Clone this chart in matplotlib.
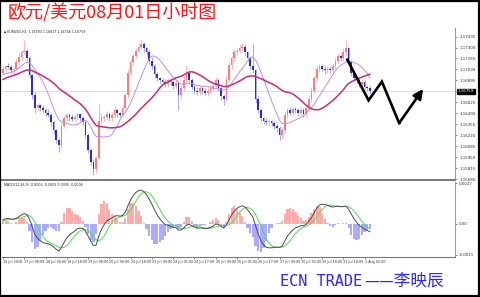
import matplotlib

matplotlib.use("Agg")
import matplotlib.pyplot as plt
import matplotlib.transforms as mtransforms
import numpy as np
import pandas as pd

prior_closes = [
    1.1688, 1.1684, 1.1680, 1.1676, 1.1672, 1.1670, 1.1668, 1.1672, 1.1676, 1.1680,
    1.1684, 1.1682, 1.1686, 1.1690, 1.1688, 1.1692, 1.1695, 1.1698, 1.1696, 1.1694,
    1.1697, 1.1700, 1.1698, 1.1695, 1.1693, 1.1690, 1.1694, 1.1697, 1.1700, 1.1699,
]
closes = [
    1.1704, 1.1707, 1.1706, 1.1702, 1.1704, 1.1712, 1.1718, 1.1724, 1.1726, 1.1717,
    1.1696, 1.1671, 1.1655, 1.1659, 1.1656, 1.1653, 1.1650, 1.1647, 1.1638, 1.1628,
    1.1616, 1.1610, 1.1634, 1.1643, 1.1647, 1.1644, 1.1642, 1.1645, 1.1648, 1.1643,
    1.1638, 1.1622, 1.1604, 1.1589, 1.1581, 1.1594, 1.1640, 1.1643, 1.1644, 1.1648,
    1.1643, 1.1647, 1.1653, 1.1649, 1.1647, 1.1655, 1.1671, 1.1699, 1.1712, 1.1720,
    1.1726, 1.1731, 1.1734, 1.1729, 1.1724, 1.1714, 1.1707, 1.1697, 1.1692, 1.1690,
    1.1687, 1.1685, 1.1690, 1.1687, 1.1683, 1.1686, 1.1671, 1.1680, 1.1690, 1.1699,
    1.1690, 1.1682, 1.1677, 1.1675, 1.1680, 1.1677, 1.1674, 1.1677, 1.1680, 1.1683,
    1.1690, 1.1680, 1.1670, 1.1667, 1.1690, 1.1708, 1.1717, 1.1724, 1.1726, 1.1729,
    1.1731, 1.1724, 1.1717, 1.1707, 1.1702, 1.1667, 1.1653, 1.1643, 1.1640, 1.1638,
    1.1639, 1.1637, 1.1634, 1.1631, 1.1622, 1.1628, 1.1647, 1.1653, 1.1650, 1.1654,
    1.1653, 1.1650, 1.1653, 1.1648, 1.1655, 1.1667, 1.1677, 1.1692, 1.1704, 1.1707,
    1.1704, 1.1702, 1.1704, 1.1702, 1.1707, 1.1714, 1.1719, 1.1717, 1.1724, 1.1729,
    1.1712, 1.1699, 1.1692, 1.1690, 1.1685, 1.1687, 1.1682, 1.1680, 1.1676,
]
upper_wick_pips = [
    3, 2, 4, 3, 2, 4, 5, 3, 13, 2, 3, 2, 4, 3, 2, 3, 2, 4, 2, 3,
    2, 3, 5, 4, 3, 2, 4, 3, 3, 2, 3, 2, 3, 2, 4, 3, 20, 6, 3, 4,
    3, 4, 5, 3, 2, 4, 3, 5, 4, 3, 4, 3, 6, 3, 2, 3, 4, 3, 3, 2,
    3, 4, 3, 2, 3, 4, 3, 4, 5, 9, 3, 2, 3, 4, 3, 2, 3, 3, 4, 3,
    4, 3, 2, 3, 5, 4, 3, 4, 3, 5, 4, 3, 2, 3, 28, 2, 3, 3, 2, 3,
    3, 2, 3, 2, 3, 4, 5, 3, 4, 3, 3, 2, 4, 3, 3, 5, 4, 3, 4, 3,
    3, 4, 3, 3, 4, 3, 4, 3, 5, 10, 2, 3, 3, 2, 3, 4, 3, 2, 3,
]
lower_wick_pips = [
    3, 4, 2, 3, 4, 2, 3, 3, 2, 4, 3, 4, 5, 3, 4, 3, 4, 3, 5, 4,
    4, 9, 4, 3, 3, 4, 2, 3, 4, 3, 4, 5, 4, 3, 8, 5, 3, 3, 4, 3,
    4, 3, 3, 4, 3, 3, 4, 3, 3, 4, 3, 2, 3, 4, 3, 4, 3, 4, 3, 4,
    3, 3, 4, 3, 4, 3, 18, 4, 3, 3, 4, 3, 4, 3, 3, 4, 3, 4, 3, 3,
    3, 4, 4, 8, 3, 3, 4, 3, 3, 3, 3, 4, 3, 4, 3, 5, 4, 3, 4, 3,
    4, 3, 4, 5, 6, 4, 3, 4, 3, 4, 3, 4, 3, 4, 3, 3, 4, 3, 3, 4,
    3, 4, 3, 3, 4, 3, 3, 4, 3, 3, 4, 4, 3, 4, 3, 4, 3, 3, 3,
]
time_labels = [
    "16 Jul 2018", "17 Jul 08:00", "18 Jul 00:00", "18 Jul 16:00", "19 Jul 08:00",
    "20 Jul 00:00", "20 Jul 16:00", "23 Jul 09:00", "24 Jul 01:00", "24 Jul 17:00",
    "25 Jul 09:00", "26 Jul 01:00", "26 Jul 17:00", "27 Jul 09:00", "30 Jul 02:00",
    "30 Jul 18:00", "31 Jul 10:00", "1 Aug 02:00",
]
price_ticks = [1.17435, 1.17300, 1.17165, 1.17030, 1.16895, 1.16625, 1.16490,
               1.16355, 1.16220, 1.16085, 1.15950, 1.15815, 1.15680]
macd_ticks = [0.0027, 0.0, -0.0021]
macd_tick_labels = ["0.0027", "0.00", "-0.0021"]
forecast_hours = [259, 275, 285, 298, 316]
forecast_prices = [1.1715, 1.1665, 1.1688, 1.1637, 1.1679]
last_price_text = "1.16759"
info_text = "EURUSD,H1  1.16783 1.16817 1.16746 1.16759"
macd_text = "MACD(12,26,9) -0.0006 -0.0003 0.0000 -0.0006"

HIST_SCALE = 2.0
BAR_HOURS = 2
PIP = 0.0001

plt.rcParams["font.family"] = ["DejaVu Sans"]

n_prior = len(prior_closes)
series = pd.Series(prior_closes + closes)
fast_ma = series.rolling(10).mean().to_numpy()[n_prior:]
slow_ma = series.rolling(25).mean().to_numpy()[n_prior:]
ema_fast = series.ewm(span=7, adjust=False).mean()
ema_slow = series.ewm(span=14, adjust=False).mean()
macd = ema_fast - ema_slow
signal = macd.rolling(5).mean()
macd_line = macd.to_numpy()[n_prior:]
signal_line = signal.to_numpy()[n_prior:]
hist = (macd_line - signal_line) * HIST_SCALE

close = np.array(closes)
opens = np.array([prior_closes[-1]] + closes[:-1])
highs = np.maximum(opens, close) + np.array(upper_wick_pips) * PIP
lows = np.minimum(opens, close) - np.array(lower_wick_pips) * PIP
hours = np.arange(len(closes)) * BAR_HOURS
up = close >= opens

fig = plt.figure(figsize=(4.8, 2.97), dpi=100)
ax = fig.add_axes([2 / 480, 1 - 180 / 297, 453 / 480, 152 / 297])
mx = fig.add_axes([2 / 480, 1 - 257 / 297, 453 / 480, 75 / 297])

# price panel
ax.axhline(close[-1], color="#ffc8c8", lw=0.6, zorder=1)
ax.vlines(hours[up], lows[up], highs[up], color="#ffb4b4", lw=0.7, zorder=2)
ax.vlines(hours[~up], lows[~up], highs[~up], color="#a8a8ff", lw=0.7, zorder=2)
body = np.where(np.abs(close - opens) < 0.00004, 0.00004, close - opens)
ax.bar(hours[up], body[up], bottom=opens[up], width=1.25, color="#ff7a7a",
       lw=0, zorder=3)
ax.bar(hours[~up], body[~up], bottom=opens[~up], width=1.25, color="#2a2ae0",
       lw=0, zorder=3)
ax.plot(hours, fast_ma, color="#c98ae8", lw=0.7, zorder=4)
ax.plot(hours, slow_ma, color="#cc2a7a", lw=1.1, zorder=4)

# hand-drawn forecast
ax.plot(forecast_hours[:-1], forecast_prices[:-1], color="black", lw=1.9,
        solid_joinstyle="miter", zorder=6)
ax.annotate("", xy=(forecast_hours[-1], forecast_prices[-1]),
            xytext=(forecast_hours[-2], forecast_prices[-2]),
            arrowprops=dict(arrowstyle="-|>", color="black", lw=1.9,
                            mutation_scale=14, shrinkA=0, shrinkB=0),
            zorder=6)

ax.set_xlim(-0.75, 340)
ax.set_ylim(1.1567, 1.1754)
ax.yaxis.tick_right()
ax.set_yticks(price_ticks)
ax.set_yticklabels([f"{p:.5f}" for p in price_ticks])
ax.tick_params(axis="y", direction="out", length=1.5, width=0.4, pad=1.5,
               labelsize=2.9, colors="#333333")
ax.set_xticks([])
for side in ["top", "left"]:
    ax.spines[side].set_visible(False)
ax.spines["right"].set_color("#999999")
ax.spines["right"].set_linewidth(0.8)
ax.spines["bottom"].set_color("#777777")
ax.spines["bottom"].set_linewidth(1.4)
ax.text(0.004, 0.985, "\u25aa " + info_text, transform=ax.transAxes,
        fontsize=2.3, va="top", ha="left", color="#222222")
trans = mtransforms.blended_transform_factory(ax.transAxes, ax.transData)
ax.text(1.006, close[-1], last_price_text, transform=trans, fontsize=2.9,
        color="white", va="center", ha="left", clip_on=False,
        bbox=dict(boxstyle="square,pad=0.15", fc="black", ec="black"))

# MACD panel
hist_colors = np.where(hist >= 0, "#ffabab", "#aaaaff")
mx.bar(hours, hist, width=1.7, color=hist_colors, lw=0, zorder=1)
mx.plot(hours, macd_line, color="#4a4a4a", lw=0.7, zorder=3)
mx.plot(hours, signal_line, color="#4fdc4f", lw=0.7, zorder=2)
mx.set_xlim(-0.75, 340)
mx.set_ylim(-0.00224, 0.00278)
mx.yaxis.tick_right()
mx.set_yticks(macd_ticks)
mx.set_yticklabels(macd_tick_labels)
mx.tick_params(axis="y", direction="out", length=1.5, width=0.4, pad=1.5,
               labelsize=2.9, colors="#333333")
mx.set_xticks(np.arange(len(time_labels)) * 16)
mx.set_xticklabels(time_labels)
mx.tick_params(axis="x", direction="out", length=1.2, width=0.4, pad=0.8,
               labelsize=2.4, colors="#333333")
for lbl in mx.get_xticklabels():
    lbl.set_ha("left")
for side in ["top", "left"]:
    mx.spines[side].set_visible(False)
mx.spines["right"].set_color("#999999")
mx.spines["right"].set_linewidth(0.8)
mx.spines["bottom"].set_color("#777777")
mx.spines["bottom"].set_linewidth(0.8)
mx.text(0.004, 0.99, macd_text, transform=mx.transAxes, fontsize=2.3,
        va="top", ha="left", color="#222222")

# headline and signature
fig.text(8 / 480, 1 - 13 / 297, "欧元/美元08月01日小时图", color="#ff1414",
         fontsize=13, family=["Noto Sans CJK SC"], va="center", ha="left")
fig.text(280 / 480, 1 - 281 / 297, "ECN TRADE", color="#2a2aff", fontsize=11,
         family=["DejaVu Sans Mono"], va="center", ha="left")
fig.text(364 / 480, 1 - 281 / 297, "——李映辰", color="#2a2aff", fontsize=12,
         family=["Noto Sans CJK SC"], va="center", ha="left")

fig.patches.append(plt.Rectangle((0.001, 0.002), 0.997, 0.995, fill=False,
                                 ec="black", lw=1.6, transform=fig.transFigure,
                                 figure=fig))

fig.savefig("out.png", dpi=100)
plt.close(fig)
